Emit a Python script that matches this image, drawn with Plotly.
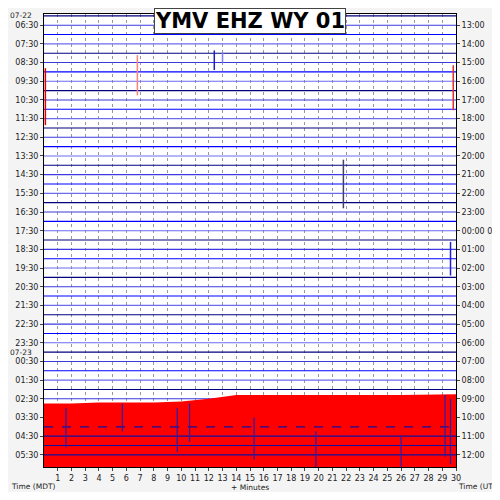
import plotly.graph_objects as go

# helicorder rows: 48 rows of 30 minutes, 06:00 MDT 07-22 -> 05:30 MDT 07-23
n_rows = 48
row_colors = ["#000080", "#3a3ae0", "#0000ff", "#6a6af0"]

left_rows = list(range(1, 48, 2))
left_text = ["%02d:30" % ((6 + i) % 24) for i in range(24)]
date_rows = [0, 36]
date_text = ["07-22", "07-23"]
right_rows = list(range(1, 48, 2))
right_text = ["%02d:00" % ((13 + i) % 24) for i in range(24)]
right_text[11] = "00:00 07-23"

minute_ticks = list(range(1, 31))

# events: x (minutes), start row, end row, colour
ev_x = [6.8, 12.4, 13.0, 0.1, 29.8, 21.8, 29.6]
ev_y0 = [4.2, 3.7, 3.9, 5.6, 5.3, 15.4, 24.2]
ev_y1 = [8.5, 5.8, 5.0, 11.7, 10.1, 20.6, 27.8]
ev_c = ["#ff8080", "#2020c0", "#8080ff", "#e00000", "#e03030", "#404070", "#2020d0"]

# saturated noise at the end of the record (envelope top, row units)
env_x = [0, 2, 4, 6, 8, 10, 12, 14, 18, 22, 26, 30]
env_top = [41.5, 41.5, 41.4, 41.4, 41.4, 41.3, 41.0, 40.6, 40.6, 40.6, 40.6, 40.5]
spike_x = [1.6, 5.7, 9.7, 10.6, 29.2, 29.6, 26.0, 19.8, 15.3]
spike_y0 = [42.0, 41.5, 42.0, 41.5, 40.6, 41.0, 45.0, 44.5, 43.0]
spike_y1 = [46.2, 44.5, 46.7, 45.6, 47.2, 48.0, 48.3, 48.3, 47.5]

fig = go.Figure()

for r in range(n_rows):
    fig.add_trace(go.Scatter(x=[0, 30], y=[r, r], mode="lines",
                             line=dict(color=row_colors[r % 4], width=1.1),
                             showlegend=False, hoverinfo="skip"))

fig.add_trace(go.Scatter(x=env_x + [30, 0], y=env_top + [48.3, 48.3], fill="toself",
                         fillcolor="#ff0000", line=dict(width=0), mode="lines",
                         showlegend=False, hoverinfo="skip"))

for r in [44, 45, 46, 47]:
    fig.add_trace(go.Scatter(x=[0, 30], y=[r, r], mode="lines",
                             line=dict(color="#1010a0", width=1.2, dash="dash" if r == 44 else "solid"),
                             showlegend=False, hoverinfo="skip"))

for x, a, b in zip(spike_x, spike_y0, spike_y1):
    fig.add_trace(go.Scatter(x=[x, x], y=[a, b], mode="lines",
                             line=dict(color="#2020b0", width=1.2),
                             showlegend=False, hoverinfo="skip"))

for x, a, b, c in zip(ev_x, ev_y0, ev_y1, ev_c):
    fig.add_trace(go.Scatter(x=[x, x], y=[a, b], mode="lines",
                             line=dict(color=c, width=1.5),
                             showlegend=False, hoverinfo="skip"))

# dummy trace for the right-hand axis
fig.add_trace(go.Scatter(x=[0], y=[0], yaxis="y2", mode="markers",
                         marker=dict(opacity=0), showlegend=False, hoverinfo="skip"))

tickfont = dict(family="DejaVu Sans", size=8, color="#222")
smallfont = dict(family="DejaVu Sans", size=7.5, color="#222")
annots = [
    dict(text="<b>YMV EHZ WY 01</b>", x=0.5, y=1.0, xref="paper", yref="paper",
         yanchor="top", yshift=6, showarrow=False,
         font=dict(family="DejaVu Sans", size=21, color="black"),
         bgcolor="white", bordercolor="#444", borderwidth=1, borderpad=0),
    dict(text="Time (MDT)", x=0, y=0, xref="paper", yref="paper", xanchor="left",
         yanchor="top", showarrow=False, font=smallfont, xshift=-35, yshift=-13),
    dict(text="+ Minutes", x=0.5, y=0, xref="paper", yref="paper",
         yanchor="top", showarrow=False, font=smallfont, yshift=-14),
    dict(text="Time (UTC)", x=1, y=0, xref="paper", yref="paper", xanchor="left",
         yanchor="top", showarrow=False, font=smallfont, yshift=-13),
]
for r, t in zip(date_rows, date_text):
    annots.append(dict(text=t, x=0, y=r, xref="paper", yref="y", xanchor="left",
                       showarrow=False, font=smallfont, xshift=-36))

fig.update_layout(
    width=484, height=484,
    margin=dict(l=36, r=36, t=6, b=25),
    paper_bgcolor="#f4f4f4", plot_bgcolor="white",
    xaxis=dict(range=[0, 30], tickvals=minute_ticks, ticktext=[str(m) for m in minute_ticks],
               showgrid=True, gridcolor="#999", griddash="dot", gridwidth=0.6,
               ticks="outside", ticklen=3, tickfont=tickfont, automargin=False,
               showline=True, linecolor="black", mirror=True, zeroline=False),
    yaxis=dict(range=[48.3, -0.2], tickvals=left_rows, ticktext=left_text,
               showgrid=False, automargin=False,
               ticks="outside", ticklen=3, tickfont=tickfont,
               showline=True, linecolor="black", mirror=True, zeroline=False),
    yaxis2=dict(range=[48.3, -0.2], overlaying="y", side="right", automargin=False,
                tickvals=right_rows, ticktext=right_text, showgrid=False,
                ticks="outside", ticklen=3, tickfont=tickfont, zeroline=False),
    annotations=annots,
)

fig.write_html("out.html")
